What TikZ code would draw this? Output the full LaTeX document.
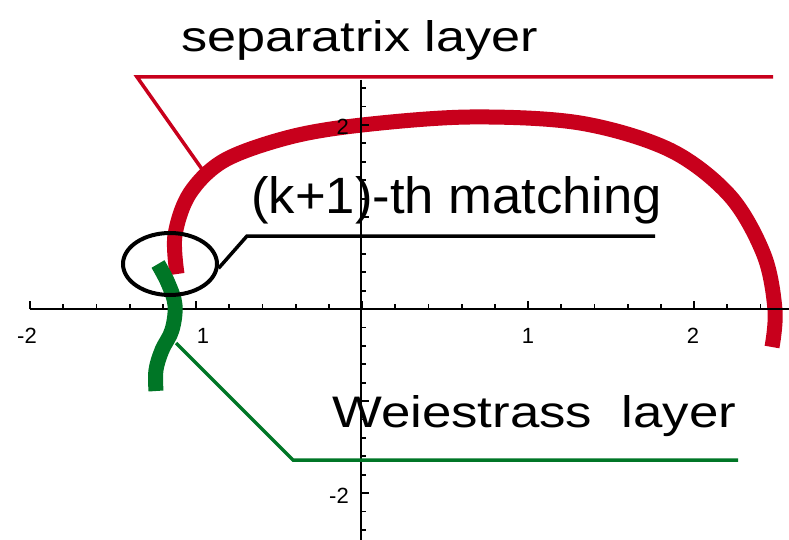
\documentclass[tikz,border=0pt]{standalone}
\usepackage{fontspec}
\usepackage{graphicx}
\usetikzlibrary{shapes.geometric}
\newfontfamily\labfont{Liberation Sans}
\definecolor{sepred}{RGB}{200,0,28}
\definecolor{weigreen}{RGB}{0,118,38}
\tikzset{
  axisline/.style={line width=2pt, black},
  ticklab/.style={font=\labfont\fontsize{22}{22}\selectfont, inner sep=0pt},
  biglab/.style={font=\labfont\fontsize{40}{40}\selectfont, inner sep=0pt, anchor=base west},
  thickcurve/.style={line width=15pt, line join=round},
  leader/.style={line width=3.5pt, line join=miter},
}
\begin{document}
\begin{tikzpicture}[x=1pt,y=-1pt]
\useasboundingbox (0,0) rectangle (789,540);
% red separatrix curve
\draw[thickcurve, sepred] plot[smooth, tension=0.55] coordinates {
 (177,274) (175,235) (190,193) (225,160) (290,137) (362,125) (470,117)
 (580,123) (670,150) (730,196) (764,255) (775,310) (772,347)};
% axes
\coordinate (xl) at (30,309);
\coordinate (xr) at (789,309);
\coordinate (yt) at (361,80);
\coordinate (yb) at (361,540);
\draw[axisline] (xl) -- (xr);
\draw[axisline] (yt) -- (yb);
\foreach \i in {-10,...,12}{
  \pgfmathtruncatemacro{\m}{mod(abs(\i),5)}
  \ifnum\m=0
    \draw[line width=1.8pt] (362+\i*33.2,309) -- (362+\i*33.2,301);
  \else
    \draw[line width=1.8pt] (362+\i*33.2,309) -- (362+\i*33.2,304);
  \fi
}
\foreach \j in {-12,...,12}{
  \pgfmathtruncatemacro{\m}{mod(abs(\j),5)}
  \ifnum\m=0
    \draw[line width=1.8pt] (361,309-\j*18.4) -- (369,309-\j*18.4);
  \else
    \draw[line width=1.8pt] (361,309-\j*18.4) -- (366,309-\j*18.4);
  \fi
}
\node[ticklab] (tm2) at (27,336) {-2};
\node[ticklab] (tm1) at (203,336) {1};
\node[ticklab] (tp1) at (528,336) {1};
\node[ticklab] (tp2) at (693,336) {2};
\node[ticklab, anchor=east] (ty2) at (349,127) {2};
\node[ticklab, anchor=east] (tym2) at (349,496) {-2};
% green Weierstrass curve
\draw[thickcurve, weigreen] plot[smooth, tension=0.6] coordinates {
 (158,264) (168,283) (175,305) (172,330) (162,350) (156,370) (156,391)};
% labels
\node[biglab] (sep) at (181,52) {\resizebox{357pt}{31pt}{separatrix layer}};
\node[biglab] (km) at (251,213) {\resizebox{411pt}{37pt}{(k+1)-th matching}};
\node[biglab] (wei) at (332,427) {\resizebox{404pt}{32pt}{Weiestrass\ \ layer}};
% red leader
\coordinate (r0) at (773,77);
\coordinate (r1) at (137,77);
\coordinate (r2) at (204,172);
\draw[leader, sepred] (r0) -- (r1) -- (r2);
% green leader
\coordinate (g0) at (176,343);
\coordinate (g1) at (293,460);
\coordinate (g2) at (738,460);
\draw[leader, weigreen] (g0) -- (g1) -- (g2);
% matching ellipse and leader
\node[draw, line width=4pt, ellipse, minimum width=94pt, minimum height=62pt, inner sep=0pt] (ell) at (170,264) {};
\coordinate (k1) at (247,236);
\coordinate (k2) at (655,236);
\draw[leader, black] (ell.-5) -- (k1) -- (k2);
\end{tikzpicture}
\end{document}
